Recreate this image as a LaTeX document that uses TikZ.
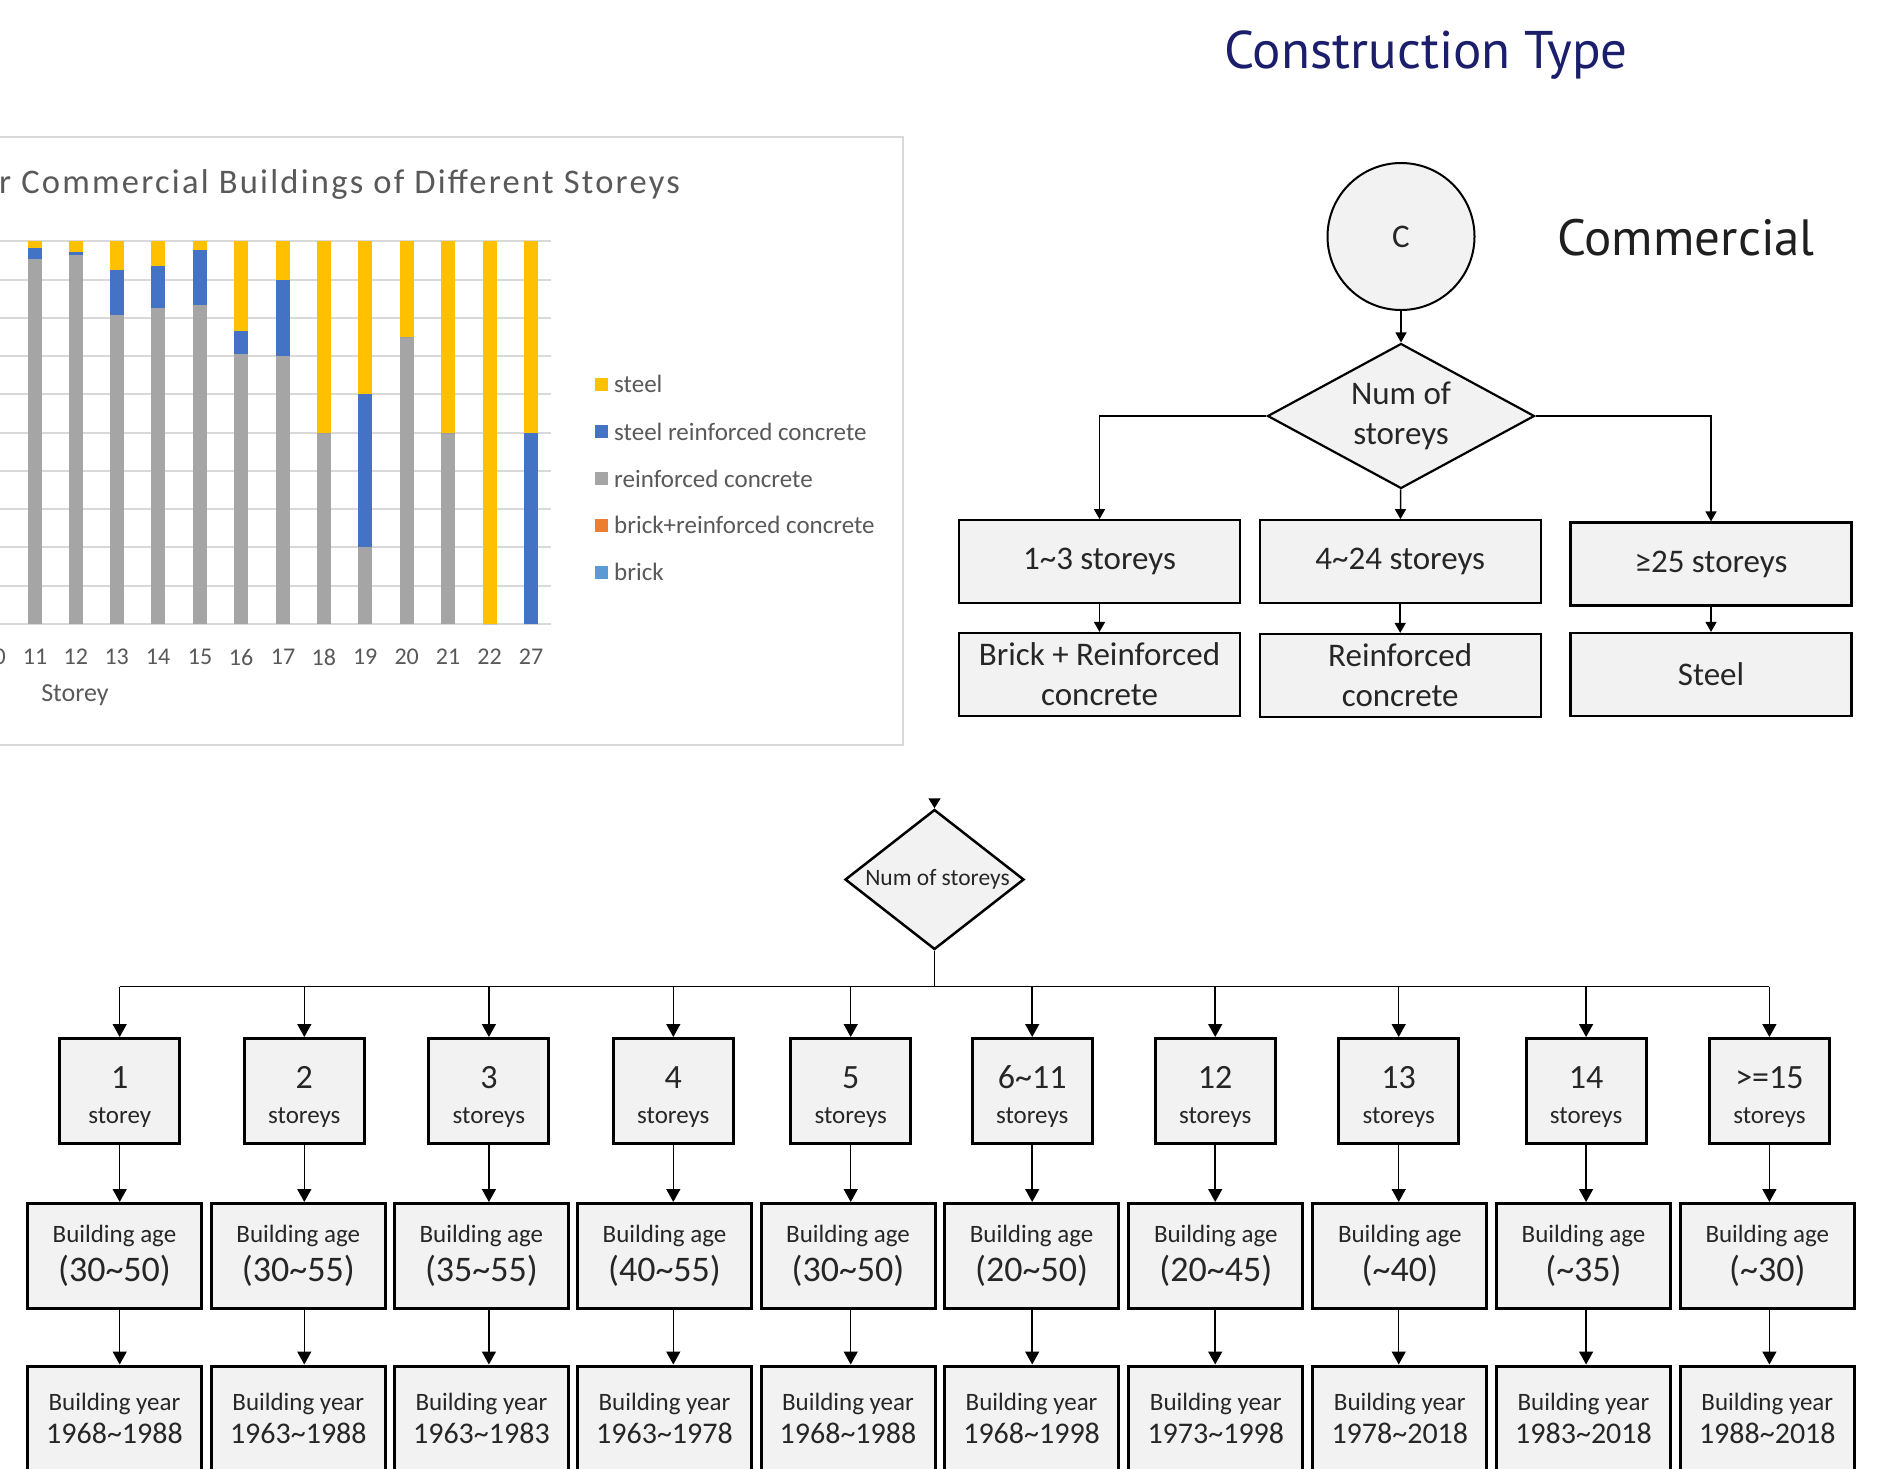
\documentclass[tikz,border=0pt]{standalone}
\usepackage{fontspec}
\setmainfont{Carlito}
\newfontfamily\dinfont{PT Sans}
\newfontfamily\ctitlefont[LetterSpace=6.5]{Carlito}
\usetikzlibrary{shapes.geometric,arrows.meta,calc}
\definecolor{navy}{RGB}{27,31,107}
\definecolor{boxfill}{HTML}{F2F2F2}
\definecolor{txt}{HTML}{262626}
\definecolor{axtxt}{HTML}{595959}
\definecolor{gridc}{HTML}{D9D9D9}
\definecolor{cSteel}{HTML}{FFC000}
\definecolor{cSRC}{HTML}{4472C4}
\definecolor{cRC}{HTML}{A5A5A5}
\definecolor{cBRC}{HTML}{ED7D31}
\definecolor{cBrick}{HTML}{5B9BD5}
\newcommand\tld{\textasciitilde}
\begin{document}
\begin{tikzpicture}[x=1pt,y=-1pt,
  conn/.style={line width=1.5pt,draw=black},
  arr/.style={conn,-{Triangle[width=14pt,length=13pt]}},
  arrs/.style={conn,-{Triangle[width=11pt,length=10pt]}},
  ctbox/.style={draw=black,line width=2.2pt,fill=boxfill,minimum width=281pt,minimum height=83pt,inner sep=0pt,text=txt,align=center,font=\fontsize{33}{40}\selectfont},
  sbox/.style={draw=black,line width=3pt,fill=boxfill,minimum width=120pt,minimum height=105pt,inner sep=0pt},
  abox/.style={draw=black,line width=3pt,fill=boxfill,minimum width=174pt,minimum height=105pt,inner sep=0pt},
  ybox/.style={draw=black,line width=3pt,fill=boxfill,minimum width=174pt,minimum height=130pt,inner sep=0pt},
  bigtxt/.style={anchor=base,inner sep=0pt,text=txt,font=\fontsize{34}{34}\selectfont},
  agetxt/.style={anchor=base,inner sep=0pt,text=txt,font=\fontsize{36}{36}\selectfont},
  smalltxt/.style={anchor=base,inner sep=0pt,text=txt,font=\fontsize{25}{25}\selectfont},
  yeartxt/.style={anchor=base,inner sep=0pt,text=txt,font=\fontsize{30}{30}\selectfont},
  axlab/.style={inner sep=0pt,text=axtxt,font=\fontsize{24}{24}\selectfont},
  legtxt/.style={anchor=west,inner sep=0pt,text=axtxt,font=\fontsize{25}{25}\selectfont}
]
\useasboundingbox (0,0) rectangle (1879,1468);
\fill[white] (0,0) rectangle (1879,1468);

% ---------------- chart ----------------
\draw[gridc,line width=2pt] (-5,137) rectangle (903,745);
\node[anchor=base west,inner sep=0pt,text=axtxt,font=\ctitlefont\fontsize{34.5}{34.5}\selectfont] (ctitle) at (-1,193.5) {r Commercial Buildings of Different Storeys};
\foreach \k in {0,...,10} {\draw[gridc,line width=2pt] (-5,241.3+38.27*\k) -- (551,241.3+38.27*\k);}
\foreach \x/\g/\b in {35/0.953/0.983,75.8/0.963/0.973,116.7/0.808/0.924,158.1/0.825/0.935,200.1/0.833/0.977,241/0.706/0.765,283/0.699/0.899,323.8/0.5/0.5,365.2/0.2/0.6,406.7/0.75/0.75,448/0.5/0.5,489.5/0/0,531/0/0.5}
{
  \fill[cRC] (\x-7,624) rectangle (\x+7,624-382.7*\g);
  \fill[cSRC] (\x-7,624-382.7*\g) rectangle (\x+7,624-382.7*\b);
  \fill[cSteel] (\x-7,624-382.7*\b) rectangle (\x+7,241.3);
}
\foreach \x/\l in {-6.3/10,35/11,75.8/12,116.7/13,158.1/14,200.1/15,241/16,283/17,323.8/18,365.2/19,406.7/20,448/21,489.5/22,531/27}
{ \node[axlab] (xl\l) at (\x,657) {\l}; }
\node[inner sep=0pt,text=axtxt,font=\fontsize{26}{26}\selectfont] (xtitle) at (75,695) {Storey};
\foreach \yy/\c/\t [count=\n] in {384/cSteel/steel,431.5/cSRC/steel reinforced concrete,478.5/cRC/reinforced concrete,525/cBRC/brick+reinforced concrete,572/cBrick/brick}
{
  \fill[\c] (595,\yy-6.5) rectangle (608,\yy+6.5);
  \node[legtxt] (lg\n) at (614,\yy) {\t};
}

% ---------------- construction type ----------------
\node[anchor=base,inner sep=0pt,text=navy,font=\dinfont\fontsize{53}{53}\selectfont] (title) at (1426,68.4) {Construction Type};
\node[anchor=base west,inner sep=0pt,text=black!88,font=\dinfont\fontsize{51}{51}\selectfont] (comm) at (1557,255) {Commercial};
\node[circle,draw=black,line width=2pt,fill=boxfill,minimum size=147pt,inner sep=0pt,text=txt,font=\fontsize{33}{40}\selectfont] (c) at (1401,236.5) {C};
\node[diamond,draw=black,line width=2.2pt,fill=boxfill,minimum width=267pt,minimum height=145pt,aspect=1.84,inner sep=0pt,align=center,text=txt,font=\fontsize{33}{40}\selectfont] (d1) at (1401,416) {\raisebox{-3pt}{Num of}\\\raisebox{-3pt}{storeys}};
\node[ctbox] (b1) at (1099.5,561.7) {\raisebox{-3pt}{1\tld3 storeys}};
\node[ctbox] (b2) at (1400.2,561.7) {\raisebox{-3pt}{4\tld24 storeys}};
\node[ctbox] (b3) at (1711,564) {\raisebox{-3pt}{≥25 storeys}};
\node[ctbox] (m1) at (1099.5,674.5) {Brick + Reinforced\\concrete};
\node[ctbox] (m2) at (1400.2,675.5) {Reinforced\\concrete};
\node[ctbox] (m3) at (1711,674.5) {Steel};
\draw[arrs] (c) -- (d1);
\draw[arrs] (d1.west) -| (b1.north);
\draw[arrs] (d1) -- (b2);
\draw[arrs] (d1.east) -| (b3.north);
\draw[arrs] (b1) -- (m1);
\draw[arrs] (b2) -- (m2);
\draw[arrs] (b3) -- (m3);

% ---------------- bottom tree ----------------
\node[diamond,draw=black,line width=2.5pt,fill=boxfill,minimum width=179pt,minimum height=140pt,aspect=1.28,inner sep=0pt,text=txt,font=\fontsize{23.5}{23.5}\selectfont] (d2) at (934.5,879.5) {\hspace*{6pt}Num of storeys};
\coordinate (d2in) at (934.5,799);
\draw[conn,-{Triangle[width=12pt,length=10pt]}] (d2in) -- (d2.north);
\coordinate (bus) at (0,986.5);

\foreach \i/\sx/\ax/\num/\lab/\age/\yr in {
 1/119.7/114.5/1/storey/(30\tld50)/1968\tld1988,
 2/304.3/298.3/2/storeys/(30\tld55)/1963\tld1988,
 3/488.9/481.4/3/storeys/(35\tld55)/1963\tld1983,
 4/673.3/664.5/4/storeys/(40\tld55)/1963\tld1978,
 5/850.7/848/5/storeys/(30\tld50)/1968\tld1988,
 6/1032.2/1031.6/6\tld11/storeys/(20\tld50)/1968\tld1998,
 7/1215.2/1215.8/12/storeys/(20\tld45)/1973\tld1998,
 8/1398.7/1399.8/13/storeys/(\tld40)/1978\tld2018,
 9/1586.1/1583.5/14/storeys/(\tld35)/1983\tld2018,
 10/1769.4/1767.3/{>=}15/storeys/(\tld30)/1988\tld2018}
{
  \node[sbox] (s\i) at (\sx,1091) {};
  \node[bigtxt] (sn\i) at (\sx,1088) {\num};
  \node[smalltxt] (sl\i) at (\sx,1123) {\lab};
  \node[abox] (a\i) at (\ax,1256) {};
  \node[smalltxt] (al\i) at (\ax,1242.7) {Building age};
  \node[agetxt] (an\i) at (\ax,1281) {\age};
  \node[ybox] (y\i) at (\ax,1431) {};
  \node[smalltxt] (yl\i) at (\ax,1410) {Building year};
  \node[yeartxt] (yn\i) at (\ax,1443) {\yr};
  \draw[arr] (s\i.south) -- (s\i.south |- a\i.north);
  \draw[arr] (s\i.south |- a\i.south) -- (s\i.south |- y\i.north);
}
\draw[conn] (d2.south) -- (d2.south |- bus);
\draw[conn] (s1.north |- bus) -- (s10.north |- bus);
\foreach \i in {1,...,10} {\draw[arr] (s\i.north |- bus) -- (s\i.north);}
\end{tikzpicture}
\end{document}
